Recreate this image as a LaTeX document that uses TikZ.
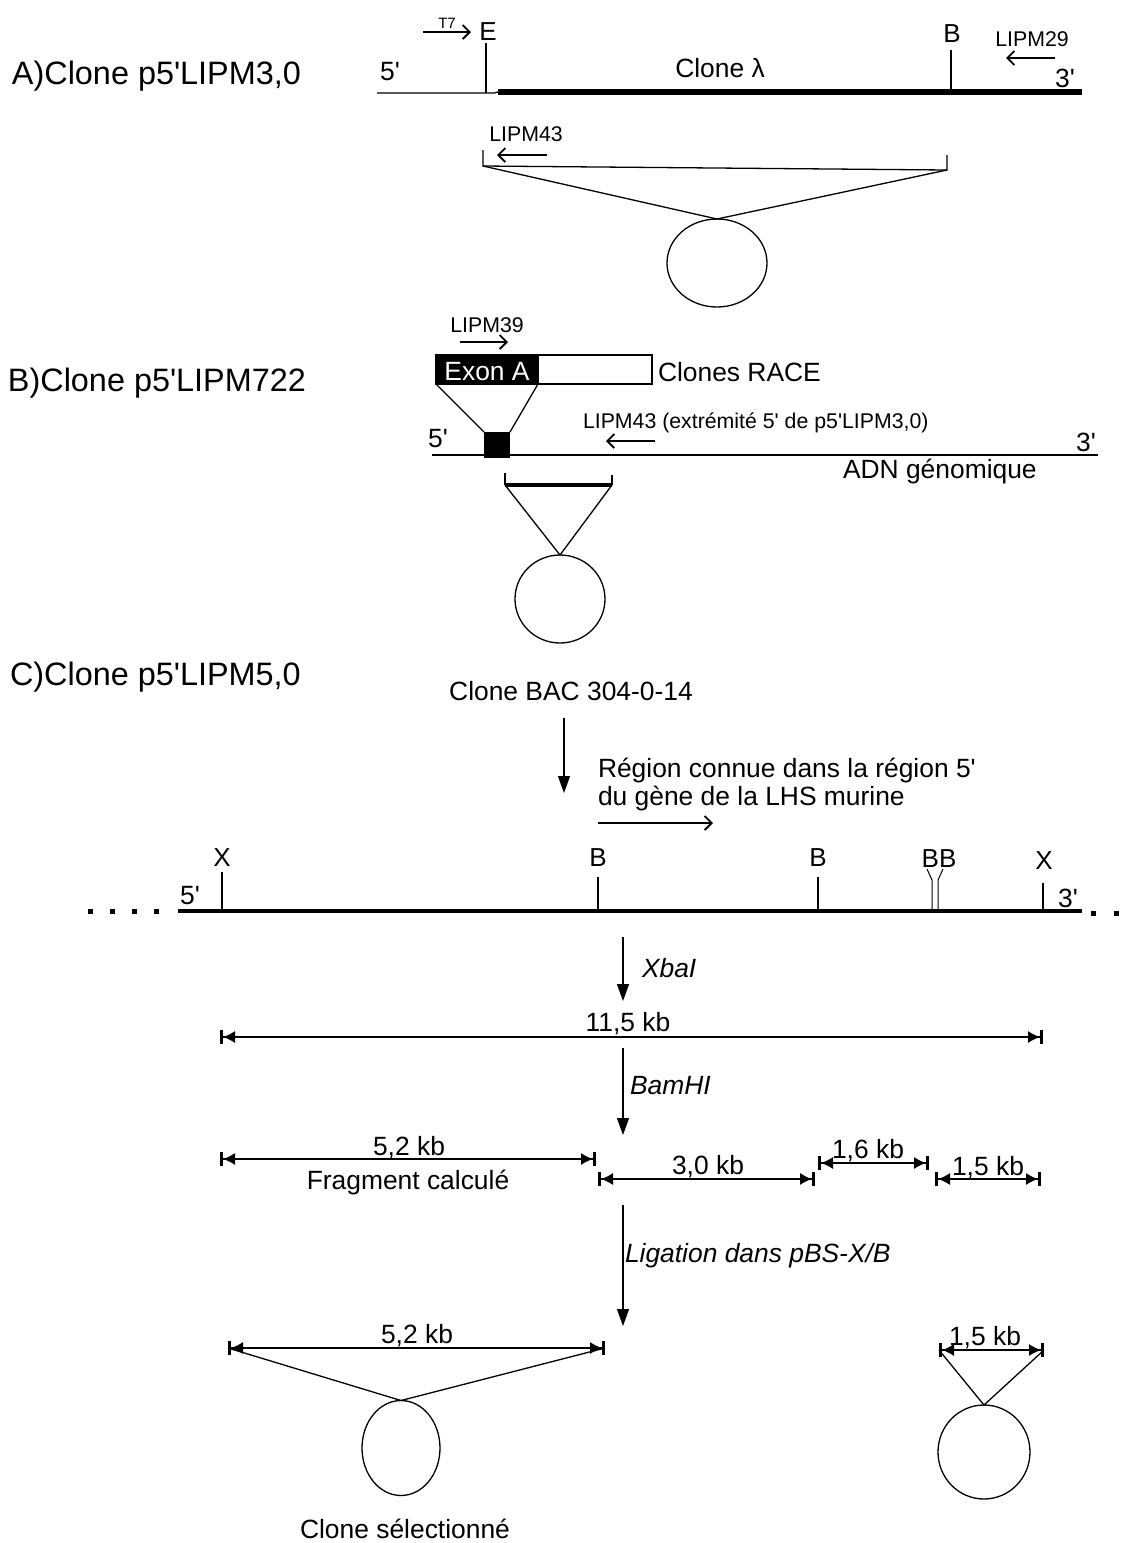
\documentclass[tikz,border=0pt]{standalone}
\usepackage{fontspec}
\setmainfont{Liberation Sans}
\usetikzlibrary{arrows.meta,shapes.geometric}
\newcommand{\ap}{\textquotesingle}
\begin{document}
\begin{tikzpicture}[x=1pt,y=-1pt,
  every node/.style={inner sep=0pt,outer sep=0pt},
  ttl/.style={font=\fontsize{32.4}{38}\selectfont},
  lbl/.style={font=\fontsize{26.4}{31}\selectfont},
  ltr/.style={font=\fontsize{26}{31}\selectfont},
  sml/.style={font=\fontsize{21.3}{25}\selectfont},
  tny/.style={font=\fontsize{15}{18}\selectfont},
  enz/.style={font=\fontsize{26.4}{31}\selectfont\itshape},
  fine/.style={line width=1.3pt},
  primer/.style={line width=1.3pt,-{Straight Barb[length=7pt,width=14pt,line width=1.8pt]}},
  procarrow/.style={line width=1.4pt,-{Triangle[length=17pt,width=12pt]}},
  dimline/.style={line width=1.3pt,{Bar[width=14pt,line width=3pt]Latex[length=12pt,width=12pt]}-{Latex[length=12pt,width=12pt]Bar[width=14pt,line width=3pt]}},
  plasmid/.style={draw,ellipse,line width=1.3pt},
  dot/.style={fill=black,minimum width=5pt,minimum height=5pt},
]
\useasboundingbox (0,0) rectangle (1125,1543);

% ---------------- A ----------------
\node[ttl,anchor=base west] (tA) at (12,84) {A)Clone p5\ap LIPM3,0};
\coordinate (a0) at (377,93);
\coordinate (aE) at (486,93);
\coordinate (a1) at (494,93);
\coordinate (a2) at (498,92);
\coordinate (aB) at (951,92);
\coordinate (a3) at (1082,92);
\draw[fine] (a0) -- (a1) -- (a2);
\draw[line width=6pt] (a2) -- (a3);
\coordinate (aEt) at (486,43);
\draw[fine] (aEt) -- (aE);
\coordinate (aBt) at (951,50);
\draw[fine] (aBt) -- (aB);
\node[ltr,anchor=base] (lE) at (488,40) {E};
\node[ltr,anchor=base] (lBa) at (952,42) {B};
\node[tny,anchor=base] (lT7) at (447,28) {T7};
\coordinate (t7s) at (423,32);
\coordinate (t7e) at (471,32);
\draw[primer] (t7s) -- (t7e);
\node[lbl,anchor=base] (a5) at (390,80) {5\ap};
\node[lbl,anchor=base] (lam) at (720,77) {Clone λ};
\node[sml,anchor=base] (l29) at (1032,46) {LIPM29};
\coordinate (p29s) at (1055,58);
\coordinate (p29e) at (1006,58);
\draw[primer] (p29s) -- (p29e);
\node[lbl,anchor=base] (a3l) at (1065,87) {3\ap};
% subclone A
\coordinate (sL) at (483,166);
\coordinate (sLt) at (483,150);
\coordinate (sR) at (947,170);
\coordinate (sRt) at (947,155);
\draw[fine] (sLt) -- (sL) -- (sR) -- (sRt);
\node[plasmid,minimum width=100pt,minimum height=88pt] (pA) at (717,263) {};
\draw[fine] (sL) -- (pA.north) -- (sR);
\node[sml,anchor=base] (l43) at (526,141) {LIPM43};
\coordinate (p43s) at (547,155);
\coordinate (p43e) at (497,155);
\draw[primer] (p43s) -- (p43e);

% ---------------- B ----------------
\node[ttl,anchor=base west] (tB) at (8,391) {B)Clone p5\ap LIPM722};
\node[sml,anchor=base] (l39) at (487,332) {LIPM39};
\coordinate (p39s) at (460,342);
\coordinate (p39e) at (508,342);
\draw[primer] (p39s) -- (p39e);
\node[draw,fill=black,fine,minimum width=102pt,minimum height=29pt,anchor=north west] (exA) at (436,355) {};
\node[lbl,text=white,anchor=base] (exAt) at (487,380) {Exon A};
\node[draw,fill=white,fine,minimum width=114pt,minimum height=29pt,anchor=north west] (race) at (538,355) {};
\node[lbl,anchor=base west] (lrace) at (658,381) {Clones RACE};
\node[fill=black,minimum width=26pt,minimum height=26pt,anchor=north west] (sq) at (484,432) {};
\draw[fine] (exA.south west) -- (sq.north west);
\draw[fine] (exA.south east) -- (sq.north east);
\coordinate (g0) at (432,455);
\coordinate (g1) at (1098,455);
\draw[fine] (g0) -- (g1);
\node[lbl,anchor=base] (b5) at (438,447) {5\ap};
\node[lbl,anchor=base] (b3) at (1086,451) {3\ap};
\node[lbl,anchor=base west] (adn) at (843,478) {ADN génomique};
\node[sml,anchor=base west] (l43b) at (583,428) {LIPM43 (extrémité 5\ap{} de p5\ap LIPM3,0)};
\coordinate (p43bs) at (655,441);
\coordinate (p43be) at (606,441);
\draw[primer] (p43bs) -- (p43be);
\coordinate (bL) at (505,485);
\coordinate (bR) at (612,485);
\coordinate (bLt) at (505,473);
\coordinate (bRt) at (612,475);
\draw[line width=4pt] (bL) -- (bR);
\draw[fine] (bLt) -- (bL);
\draw[fine] (bRt) -- (bR);
\node[plasmid,minimum width=90pt,minimum height=88pt] (pB) at (560,599) {};
\draw[fine] (bL) -- (pB.north) -- (bR);

% ---------------- C ----------------
\node[ttl,anchor=base west] (tC) at (10,685) {C)Clone p5\ap LIPM5,0};
\node[lbl,anchor=base] (bac) at (571,700) {Clone BAC 304-0-14};
\coordinate (c1s) at (564,718);
\coordinate (c1e) at (564,793);
\draw[procarrow] (c1s) -- (c1e);
\node[lbl,anchor=base west] (reg1) at (598,777) {Région connue dans la région 5\ap};
\node[lbl,anchor=base west] (reg2) at (598,805) {du gène de la LHS murine};
\coordinate (rgs) at (598,823);
\coordinate (rge) at (713,823);
\draw[primer] (rgs) -- (rge);
% main line
\coordinate (m0) at (178,911);
\coordinate (m1) at (1082,911);
\draw[line width=4.5pt] (m0) -- (m1);
\node[dot] (d1) at (90,911) {};
\node[dot] (d2) at (112,911) {};
\node[dot] (d3) at (134,911) {};
\node[dot] (d4) at (156,911) {};
\node[dot] (d5) at (1093,913) {};
\node[dot] (d6) at (1116,913) {};
% sites
\coordinate (x1) at (222,911); \coordinate (x1t) at (222,872);
\coordinate (b1) at (598,911); \coordinate (b1t) at (598,877);
\coordinate (b2) at (818,911); \coordinate (b2t) at (818,877);
\coordinate (x2) at (1043,911); \coordinate (x2t) at (1043,883);
\coordinate (bb1) at (932,911); \coordinate (bb1m) at (932,880); \coordinate (bb1t) at (927,869);
\coordinate (bb2) at (938,911); \coordinate (bb2m) at (938,880); \coordinate (bb2t) at (943,869);
\draw[fine] (x1) -- (x1t);
\draw[fine] (b1) -- (b1t);
\draw[fine] (b2) -- (b2t);
\draw[fine] (x2) -- (x2t);
\draw[line width=1pt] (bb1) -- (bb1m) -- (bb1t);
\draw[line width=1pt] (bb2) -- (bb2m) -- (bb2t);
\node[ltr,anchor=base] (lx1) at (222,866) {X};
\node[ltr,anchor=base] (lb1) at (598,866) {B};
\node[ltr,anchor=base] (lb2) at (818,866) {B};
\node[ltr,anchor=base] (lbb) at (939,867) {BB};
\node[ltr,anchor=base] (lx2) at (1044,869) {X};
\node[lbl,anchor=base] (c5) at (190,904) {5\ap};
\node[lbl,anchor=base] (c3) at (1068,907) {3\ap};
% XbaI
\coordinate (xa) at (623,937);
\coordinate (xb) at (623,1001);
\draw[procarrow] (xa) -- (xb);
\node[enz,anchor=base west] (lxba) at (642,977) {XbaI};
% 11,5 kb
\coordinate (k0) at (220,1037);
\coordinate (k1) at (1043,1037);
\draw[dimline] (k0) -- (k1);
\node[lbl,anchor=base] (l115) at (628,1031) {11,5 kb};
% BamHI
\coordinate (ba) at (623,1048);
\coordinate (bb) at (623,1135);
\draw[procarrow] (ba) -- (bb);
\node[enz,anchor=base west] (lbam) at (630,1094) {BamHI};
% fragments
\coordinate (f1a) at (220,1159); \coordinate (f1b) at (596,1159);
\coordinate (f2a) at (598,1179); \coordinate (f2b) at (815,1179);
\coordinate (f3a) at (818,1163); \coordinate (f3b) at (929,1163);
\coordinate (f4a) at (935,1179); \coordinate (f4b) at (1041,1179);
\draw[dimline] (f1a) -- (f1b);
\draw[dimline] (f2a) -- (f2b);
\draw[dimline] (f3a) -- (f3b);
\draw[dimline] (f4a) -- (f4b);
\node[lbl,anchor=base] (l52) at (409,1155) {5,2 kb};
\node[lbl,anchor=base] (lfc) at (408,1189) {Fragment calculé};
\node[lbl,anchor=base] (l30) at (708,1174) {3,0 kb};
\node[lbl,anchor=base] (l16) at (868,1158) {1,6 kb};
\node[lbl,anchor=base] (l15) at (988,1175) {1,5 kb};
% ligation
\coordinate (la) at (623,1205);
\coordinate (lb) at (623,1326);
\draw[procarrow] (la) -- (lb);
\node[enz,anchor=base west] (llig) at (625,1262) {Ligation dans pBS-X/B};
% selected clone
\coordinate (s1a) at (228,1348); \coordinate (s1b) at (605,1348);
\draw[dimline] (s1a) -- (s1b);
\node[lbl,anchor=base] (ls52) at (417,1343) {5,2 kb};
\node[plasmid,minimum width=78pt,minimum height=95pt] (pC1) at (401,1448) {};
\draw[fine] (s1a) -- (pC1.north) -- (s1b);
\node[lbl,anchor=base] (lsel) at (405,1538) {Clone sélectionné};
% other clone
\coordinate (s2a) at (939,1350); \coordinate (s2b) at (1044,1350);
\draw[dimline] (s2a) -- (s2b);
\node[lbl,anchor=base] (ls15) at (985,1345) {1,5 kb};
\node[plasmid,minimum width=92pt,minimum height=94pt] (pC2) at (984,1452) {};
\draw[fine] (s2a) -- (pC2.north) -- (s2b);
\end{tikzpicture}
\end{document}
